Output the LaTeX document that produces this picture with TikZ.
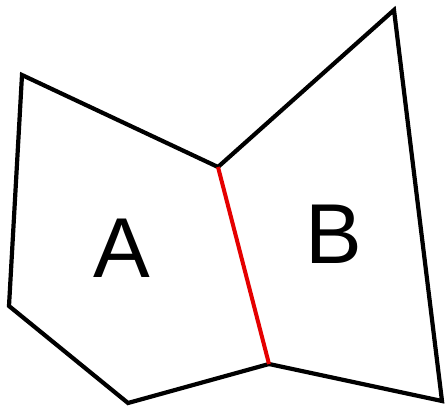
\documentclass[tikz,border=0pt]{standalone}
\usepackage{fontspec}
\setmainfont{Liberation Sans}
\tikzset{
  edge/.style={draw=black, line width=4.2pt, line join=miter},
  shared/.style={draw=red!90!black, line width=4pt},
  lbl/.style={inner sep=0pt, font=\fontsize{85}{85}\selectfont}
}
\begin{document}
\begin{tikzpicture}[x=1pt,y=-1pt]
\useasboundingbox (0,0) rectangle (447,409);
\coordinate (p1) at (22,75);
\coordinate (p2) at (218,167);
\coordinate (p3) at (269,364);
\coordinate (p4) at (128,403);
\coordinate (p5) at (9,306);
\coordinate (q1) at (394,10);
\coordinate (q2) at (442,401);
\draw[edge] (p2) -- (p1) -- (p5) -- (p4) -- (p3);
\draw[edge] (p2) -- (q1) -- (q2) -- (p3);
\draw[shared] (p2) -- (p3);
\node[lbl] (A) at (122,248) {A};
\node[lbl] (B) at (334,234) {B};
\end{tikzpicture}
\end{document}
